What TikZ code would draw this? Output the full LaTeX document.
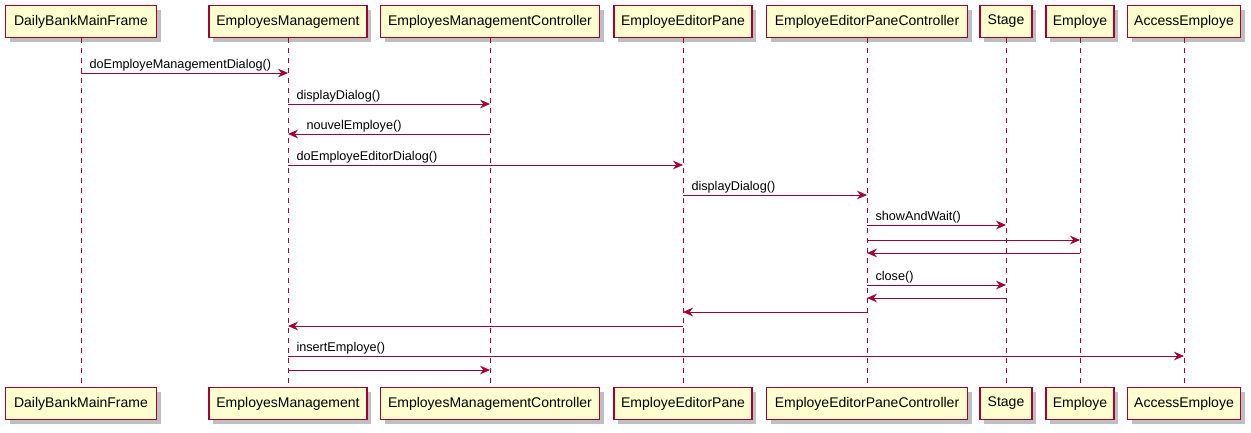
\documentclass[tikz,border=0pt]{standalone}
\usepackage{fontspec}
\setmainfont{Liberation Sans}
\usetikzlibrary{arrows.meta}
\definecolor{umlred}{HTML}{A80036}
\definecolor{umlfill}{HTML}{FEFECE}
\tikzset{>={Stealth[length=7.5pt, width=6.5pt, inset=2.5pt]}}
\def\px{0.75pt}
\tikzset{
  participant/.style={draw=umlred, fill=umlfill, line width=1.1pt, minimum height=24pt, inner sep=0pt,
    font=\fontsize{10.5}{12}\selectfont},
  shade box/.style={fill=black!25, draw=none},
  lifeline/.style={draw=umlred, line width=\px, dash pattern=on 3.75pt off 3.75pt},
  msg/.style={draw=umlred, line width=\px, ->},
  msgtext/.style={anchor=base west, inner sep=0pt, font=\fontsize{9.5}{11}\selectfont}
}

\begin{document}
\begin{tikzpicture}[x=\px, y=-\px]
    \useasboundingbox (0,0) rectangle (1251,432);

    % participants, top and bottom, with their shadows
    \foreach \id/\x/\w/\name in {dbmf/81/151/DailyBankMainFrame, em/288/158/EmployesManagement,
        emc/490/219/EmployesManagementController, eep/683/138/EmployeEditorPane,
        eepc/867/201/EmployeEditorPaneController, stage/1006/52/Stage,
        employe/1080/68/Employe, access/1184/113/AccessEmploye}{
        \fill[shade box] (\x-\w/2+4, 9.5) rectangle (\x+\w/2+4, 41.5);
        \fill[shade box] (\x-\w/2+4, 391.5) rectangle (\x+\w/2+4, 423.5);
        \node[participant, minimum width=\w*\px] (\id) at (\x, 21.5) {\name};
        \node[participant, minimum width=\w*\px] (\id-end) at (\x, 403.5) {\name};
        \draw[lifeline] (\id) -- (\id-end);
    }

    % labelled calls
    \foreach \y/\a/\b/\txt in {73/dbmf/em/{doEmployeManagementDialog()}, 104/em/emc/{displayDialog()},
        165/em/eep/{doEmployeEditorDialog()}, 195/eep/eepc/{displayDialog()},
        225/eepc/stage/{showAndWait()}, 285/eepc/stage/{close()}, 356/em/access/{insertEmploye()}}{
        \draw[msg] (\a |- 0,\y) node[msgtext, xshift=8*\px, yshift=5*\px] {\txt} -- (\b |- 0,\y);
    }
    \draw[msg] (emc |- 0,134) -- (em |- 0,134) node[msgtext, xshift=18*\px, yshift=5*\px] {nouvelEmploye()};

    % plain messages and returns
    \foreach \y/\a/\b in {240/eepc/employe, 253/employe/eepc, 298/stage/eepc,
        312/eepc/eep, 326/eep/em, 370/em/emc}{
        \draw[msg] (\a |- 0,\y) -- (\b |- 0,\y);
    }

\end{tikzpicture}
\end{document}
